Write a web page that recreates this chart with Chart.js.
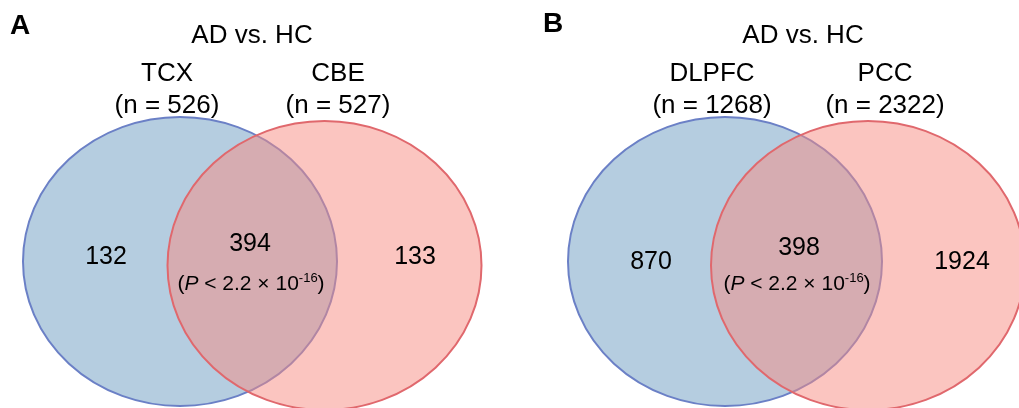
<!DOCTYPE html>
<html>
<head>
<meta charset="utf-8">
<script src="https://cdn.jsdelivr.net/npm/chart.js@4"></script>
<style>
  html, body { margin: 0; padding: 0; background: #ffffff; }
  canvas { display: block; }
</style>
</head>
<body>
<canvas id="venn" width="1019" height="408"></canvas>
<script>
// values
const panelLetters = ['A', 'B'];
const comparisons = ['AD vs. HC', 'AD vs. HC'];
const leftSets = ['TCX', 'DLPFC'];
const rightSets = ['CBE', 'PCC'];
const leftTotals = [526, 1268];
const rightTotals = [527, 2322];
const leftOnly = [132, 870];
const shared = [394, 398];
const rightOnly = [133, 1924];
const pValue = ['2.2', '-16'];

// layout, in chart units (x 0..1019, y 0..408 top-down)
const W = 1019, H = 408;
const leftCenters = [{ x: 180, y: 261.5 }, { x: 725, y: 261.5 }];
const rightCenters = [{ x: 324.5, y: 265.5 }, { x: 868, y: 265.5 }];
const radius = { rx: 157, ry: 144.5 };
const textPos = [
    { letter: [10, 34], title: [252, 42.5], left: [167, 81, 113], right: [338, 81, 113],
      lonly: [106, 264], shared: [250, 251], p: [251, 290], ronly: [415, 264] },
    { letter: [543, 32], title: [803, 42.5], left: [712, 81, 113], right: [885, 81, 113],
      lonly: [651, 269], shared: [799, 255], p: [797, 290], ronly: [962, 269] }
];

const FONT = '"Liberation Sans", Arial, Helvetica, sans-serif';

const ellipsePlugin = {
    id: 'ellipses',
    beforeDatasetsDraw(chart) {
        const { ctx, scales: { x, y } } = chart;
        chart.data.datasets.forEach(ds => {
            ds.data.forEach(p => {
                const cx = x.getPixelForValue(p.x);
                const cy = y.getPixelForValue(p.y);
                const rx = Math.abs(x.getPixelForValue(p.x + radius.rx) - cx);
                const ry = Math.abs(y.getPixelForValue(p.y + radius.ry) - cy);
                ctx.save();
                ctx.beginPath();
                ctx.ellipse(cx, cy, rx, ry, 0, 0, Math.PI * 2);
                ctx.fillStyle = ds.fillColor;
                ctx.fill();
                ctx.lineWidth = 2;
                ctx.strokeStyle = ds.strokeColor;
                ctx.stroke();
                ctx.restore();
            });
        });
    }
};

const textPlugin = {
    id: 'vennText',
    afterDatasetsDraw(chart) {
        const { ctx, scales: { x, y } } = chart;
        const px = v => x.getPixelForValue(v);
        const py = v => y.getPixelForValue(v);
        function text(str, pos, size, bold) {
            ctx.font = (bold ? 'bold ' : '') + size + 'px ' + FONT;
            ctx.fillText(str, px(pos[0]), py(pos[1]));
        }
        ctx.save();
        ctx.fillStyle = '#000000';
        ctx.textBaseline = 'alphabetic';
        panelLetters.forEach((letter, i) => {
            const t = textPos[i];
            ctx.textAlign = 'left';
            text(letter, t.letter, 28, true);
            ctx.textAlign = 'center';
            text(comparisons[i], t.title, 26);
            text(leftSets[i], [t.left[0], t.left[1]], 26);
            text('(n = ' + leftTotals[i] + ')', [t.left[0], t.left[2]], 26);
            text(rightSets[i], [t.right[0], t.right[1]], 26);
            text('(n = ' + rightTotals[i] + ')', [t.right[0], t.right[2]], 26);
            text(String(leftOnly[i]), t.lonly, 25);
            text(String(shared[i]), t.shared, 25);
            text(String(rightOnly[i]), t.ronly, 25);

            // (P < 2.2 × 10^-16)
            const parts = [
                { s: '(', f: '21px ' + FONT, dy: 0 },
                { s: 'P', f: 'italic 21px ' + FONT, dy: 0 },
                { s: ' < ' + pValue[0] + ' \u00d7 10', f: '21px ' + FONT, dy: 0 },
                { s: pValue[1], f: '13px ' + FONT, dy: -8 },
                { s: ')', f: '21px ' + FONT, dy: 0 }
            ];
            let total = 0;
            parts.forEach(p => { ctx.font = p.f; p.w = ctx.measureText(p.s).width; total += p.w; });
            let cur = px(t.p[0]) - total / 2;
            ctx.textAlign = 'left';
            parts.forEach(p => {
                ctx.font = p.f;
                ctx.fillText(p.s, cur, py(t.p[1]) + p.dy);
                cur += p.w;
            });
        });
        ctx.restore();
    }
};

new Chart(document.getElementById('venn').getContext('2d'), {
    type: 'scatter',
    data: {
        datasets: [{
            label: 'left set',
            data: leftCenters,
            pointRadius: 0,
            fillColor: '#b5cde0',
            strokeColor: '#6b80c6'
        }, {
            label: 'right set',
            data: rightCenters,
            pointRadius: 0,
            fillColor: 'rgba(247, 139, 129, 0.5)',
            strokeColor: '#e0686d'
        }]
    },
    options: {
        responsive: false,
        animation: false,
        layout: { padding: 0 },
        plugins: { legend: { display: false }, tooltip: { enabled: false } },
        scales: {
            x: { type: 'linear', min: 0, max: W, display: false },
            y: { type: 'linear', min: 0, max: H, reverse: true, display: false }
        }
    },
    plugins: [ellipsePlugin, textPlugin]
});
</script>
</body>
</html>
